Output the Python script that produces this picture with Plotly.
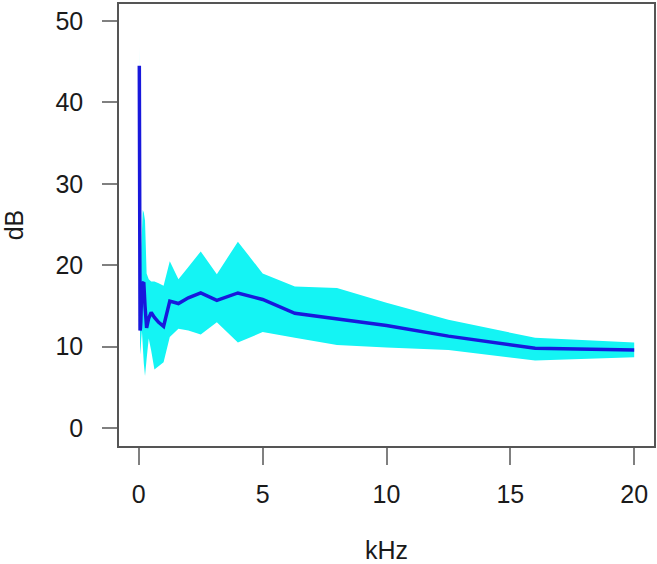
import plotly.graph_objects as go

# third-octave band centres, kHz
freq = [0.02, 0.025, 0.0315, 0.04, 0.05, 0.063, 0.08, 0.1, 0.125, 0.16, 0.2,
        0.25, 0.315, 0.4, 0.5, 0.63, 0.8, 1, 1.25, 1.6, 2, 2.5, 3.15, 4, 5,
        6.3, 8, 10, 12.5, 16, 20]

# mean level, dB
mean_db = [44.5, 30, 22, 16, 12, 12.2, 13, 15, 17.9, 17.8, 17.9,
           15, 12.3, 13.5, 14.2, 13.6, 13.0, 12.5, 15.6, 15.3, 16.0, 16.6, 15.7, 16.6, 15.8,
           14.1, 13.4, 12.6, 11.3, 9.8, 9.6]

# upper / lower edge of the band, dB
upper_db = [47, 32, 24, 19, 15, 14, 16, 22, 26, 26.8, 26.5,
            25.5, 19, 18.3, 18, 18, 17.8, 17.5, 20.5, 18.3, 19.8, 21.7, 18.9, 22.9, 19.0,
            17.4, 17.2, 15.4, 13.3, 11.1, 10.5]
lower_db = [42, 28, 20, 14, 10, 9, 10, 11, 12, 10, 8,
            6.4, 8.5, 11, 9.5, 7.2, 7.6, 8.1, 11.2, 12.2, 12.0, 11.5, 13.0, 10.5, 11.8,
            11.1, 10.2, 9.9, 9.6, 8.3, 8.7]

x_ticks = [0, 5, 10, 15, 20]
y_ticks = [0, 10, 20, 30, 40, 50]

fig = go.Figure()

# band as a closed polygon
fig.add_trace(go.Scatter(
    x=freq + freq[::-1],
    y=upper_db + lower_db[::-1],
    fill="toself",
    fillcolor="#14f4f4",
    line=dict(width=0),
    mode="lines",
    hoverinfo="skip",
    showlegend=False,
))

fig.add_trace(go.Scatter(
    x=freq, y=mean_db,
    mode="lines",
    line=dict(color="#1818dc", width=3.5),
    showlegend=False,
))

font = dict(family="Liberation Sans, Arial, sans-serif", size=25, color="#1a1a1a")

fig.update_xaxes(
    range=[-0.8, 20.8],
    tickvals=x_ticks,
    ticks="outside", ticklen=17, tickwidth=1.5, tickcolor="#808080",
    showline=True, linecolor="#555555", linewidth=1.5, mirror=True,
    showgrid=False, zeroline=False,
    tickfont=font,
    ticklabelstandoff=8,
    title=dict(text="kHz", font=font, standoff=38),
)
fig.update_yaxes(
    range=[-2.2, 52.1],
    tickvals=y_ticks,
    ticks="outside", ticklen=15, tickwidth=1.5, tickcolor="#808080",
    showline=True, linecolor="#555555", linewidth=1.5, mirror=True,
    showgrid=False, zeroline=False,
    tickfont=font,
    ticklabelstandoff=14,
    title=dict(text="dB", font=font, standoff=28),
)

fig.update_layout(
    width=657, height=564,
    margin=dict(l=119, r=1, t=4, b=117),
    plot_bgcolor="white",
    paper_bgcolor="white",
    font=font,
)

fig.write_html("out.html", config={"displayModeBar": False},
               post_script="document.body.style.margin='0';")
